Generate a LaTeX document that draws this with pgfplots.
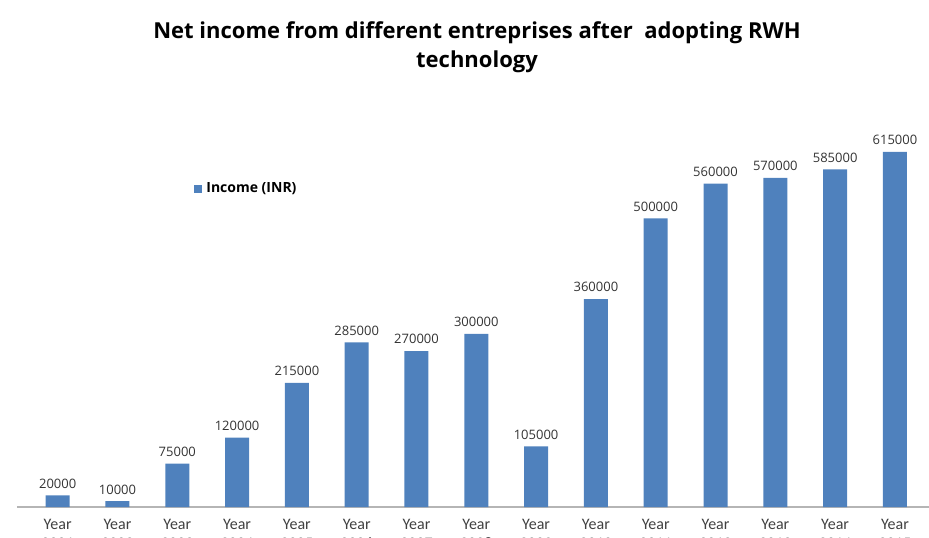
\documentclass[border=0pt]{standalone}
\usepackage{pgfplots}
\pgfplotsset{compat=1.18}
\usepackage{fontspec}
\setmainfont{Open Sans}
\newfontfamily\labelfont{Carlito}
\definecolor{barblue}{HTML}{4F81BD}
\definecolor{axisgray}{HTML}{B5B5B5}

\begin{document}
\begin{tikzpicture}[x=1pt,y=1pt]
\begin{axis}[
    at={(0,0)}, anchor=south west,
    scale only axis,
    width=456pt, height=188.5pt,
    ybar, bar width=12pt,
    ymin=0, ymax=653000,
    xmin=-0.68, xmax=14.57,
    enlargelimits=false,
    axis y line=none,
    axis x line*=bottom,
    x axis line style={axisgray, line width=0.8pt},
    xtick=data, major tick length=0pt,
    xticklabels={Year\\2001,Year\\2002,Year\\2003,Year\\2004,Year\\2005,Year\\2006,Year\\2007,Year\\2008,Year\\2009,Year\\2010,Year\\2011,Year\\2012,Year\\2013,Year\\2014,Year\\2015},
    xticklabel style={align=center, yshift=-2.5pt, font=\labelfont\fontsize{8}{9.5}\selectfont, text=black!75},
    nodes near coords,
    nodes near coords style={font=\fontsize{6.5}{8}\selectfont, text=black!80,
        /pgf/number format/assume math mode=true,
        /pgf/number format/fixed, /pgf/number format/precision=0,
        /pgf/number format/1000 sep={}},
    legend style={at={(0.1875,0.843)}, anchor=west, draw=none, fill=none,
        font=\bfseries\fontsize{7}{8}\selectfont},
    legend image code/.code={\fill[barblue] (0pt,-2pt) rectangle (4pt,2pt);},
]
\addplot[fill=barblue, draw=none] coordinates {
    (0,20000) (1,10000) (2,75000) (3,120000) (4,215000)
    (5,285000) (6,270000) (7,300000) (8,105000) (9,360000)
    (10,500000) (11,560000) (12,570000) (13,585000) (14,615000)
};
\addlegendentry{Income (INR)}
\end{axis}
\node[align=center, font=\bfseries\fontsize{11}{14.5}\selectfont] at (230,229.75)
    {Net income from different entreprises after\ \ adopting RWH\\technology};
\pgfresetboundingbox
\useasboundingbox (-8.5,-15) rectangle (456,253.5);
\end{tikzpicture}
\end{document}
